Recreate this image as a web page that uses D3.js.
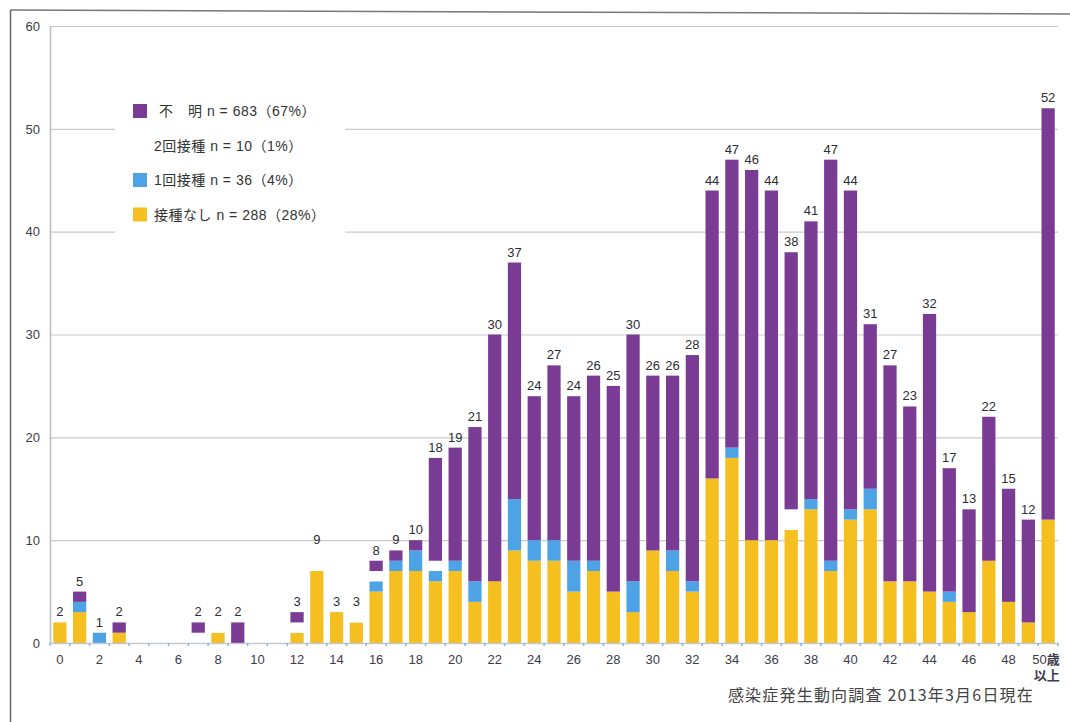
<!DOCTYPE html>
<html>
<head>
<meta charset="utf-8">
<script src="https://cdn.jsdelivr.net/npm/d3@7"></script>
<style>
  html, body { margin: 0; padding: 0; background: #fff; }
  svg text { font-family: "Liberation Sans", Arial, "Noto Sans CJK JP", sans-serif; }
  .jp { font-family: "Noto Sans CJK JP", "Liberation Sans", sans-serif; }
</style>
</head>
<body>
<svg id="chart" width="1070" height="722"></svg>
<script>
// Age groups: 0..49 years, then 50 and over
const ages = d3.range(0, 50).map(String).concat(["50+"]);

// Cases by vaccination status per age
const noVaccine = [2,3,0,1,0,0,0,0,1,0, 0,0,1,7,3,2,5,7,7,6, 7,4,6,9,8,8,5,7,5,3, 9,7,5,16,18,10,10,11,13,7, 12,13,6,6,5,4,3,8,4,2, 12];
const oneDose   = [0,1,1,0,0,0,0,0,0,0, 0,0,0,0,0,0,1,1,2,1, 1,2,0,5,2,2,3,1,0,3, 0,2,1,0,1,0,0,0,1,1, 1,2,0,0,0,1,0,0,0,0, 0];
const twoDoses  = [0,0,0,0,0,0,0,1,1,0, 0,0,1,2,0,1,1,0,0,1, 0,0,0,0,0,0,0,0,0,0, 0,0,0,0,0,0,0,2,0,0, 0,0,0,0,0,0,0,0,0,0, 0];
const unknown   = [0,1,0,1,0,0,0,1,0,2, 0,0,1,0,0,0,1,1,1,10, 11,15,24,23,14,17,16,18,20,24, 17,17,22,28,28,36,34,25,27,39, 31,16,21,17,27,12,10,14,11,10, 40];

// Stack order from the baseline upward
const seriesKeys = ["none", "one", "two", "unknown"];
const seriesColors = { none: "#f4bf1f", one: "#4da3e6", two: "#ffffff", unknown: "#7a3b94" };

const legendLabels = [
  { key: "unknown", text: "不\u3000明 n = 683（67%）", swatch: true },
  { key: "two",     text: "2回接種 n = 10（1%）",     swatch: false },
  { key: "one",     text: "1回接種 n = 36（4%）",     swatch: true },
  { key: "none",    text: "接種なし n = 288（28%）",  swatch: true }
];

const yTicks = [0, 10, 20, 30, 40, 50, 60];
const xTickLabels = ages.map((a, i) => (i % 2 === 0 && i < 50) ? a : "");
const sourceNote = "感染症発生動向調査 2013年3月6日現在";

const rows = ages.map((a, i) => ({
  age: a,
  none: noVaccine[i], one: oneDose[i], two: twoDoses[i], unknown: unknown[i]
}));
rows.forEach(r => r.total = r.none + r.one + r.two + r.unknown);

const svg = d3.select("#chart");

// scanned-page frame
svg.append("line").attr("x1", 10.5).attr("y1", 10).attr("x2", 1070).attr("y2", 14)
  .attr("stroke", "#777").attr("stroke-width", 1.5);
svg.append("line").attr("x1", 10.5).attr("y1", 10).attr("x2", 10.5).attr("y2", 722)
  .attr("stroke", "#666").attr("stroke-width", 1.5);

const plotLeft = 50, plotRight = 1058, plotTop = 26, plotBottom = 643;

const x = d3.scaleBand().domain(ages).range([plotLeft, plotRight])
  .paddingInner(0.33).paddingOuter(0.165);
const y = d3.scaleLinear().domain([0, 60]).range([plotBottom, plotTop]);

// horizontal gridlines
svg.append("g").selectAll("line").data(yTicks.filter(t => t > 0)).join("line")
  .attr("x1", plotLeft).attr("x2", plotRight)
  .attr("y1", d => y(d) + 0.5).attr("y2", d => y(d) + 0.5)
  .attr("stroke", "#c9c9c9").attr("stroke-width", 1.2);

// y axis
const yAxis = svg.append("g").attr("transform", `translate(${plotLeft},0)`)
  .call(d3.axisLeft(y).tickValues(yTicks).tickSize(0).tickPadding(10));
yAxis.select(".domain").attr("stroke", "#bbb").attr("stroke-width", 1.5);
yAxis.selectAll("text").attr("fill", "#3c3c4a").attr("font-size", 13);

// stacked bars
const stack = d3.stack().keys(seriesKeys);
const layers = stack(rows);
svg.append("g").selectAll("g").data(layers).join("g")
  .attr("fill", d => seriesColors[d.key])
  .selectAll("rect").data(d => d).join("rect")
  .attr("x", d => x(d.data.age))
  .attr("width", x.bandwidth())
  .attr("y", d => y(d[1]))
  .attr("height", d => y(d[0]) - y(d[1]));

// x axis
const xAxis = svg.append("g").attr("transform", `translate(0,${plotBottom})`)
  .call(d3.axisBottom(x).tickSize(0).tickPadding(12).tickFormat((d, i) => xTickLabels[i]));
xAxis.select(".domain").attr("stroke", "#c4c8d4").attr("stroke-width", 1.5);
xAxis.selectAll("text").attr("fill", "#3c3c4a").attr("font-size", 13);

// small tick marks on band boundaries
const boundaries = ages.map(a => x(a) - x.step() * x.paddingInner() / 2).concat([plotRight]);
xAxis.append("g").selectAll("line").data(boundaries).join("line")
  .attr("x1", d => d).attr("x2", d => d).attr("y1", 0).attr("y2", 3)
  .attr("stroke", "#8fb0dd").attr("stroke-width", 1.5);

// last category label: 50歳 / 以上
const lastRight = x("50+") + x.bandwidth() + 5;
const lastLabel = svg.append("text").attr("fill", "#3c3c4a").attr("font-size", 13)
  .attr("text-anchor", "end");
lastLabel.append("tspan").attr("x", lastRight).attr("y", plotBottom + 21).text("50")
  .append("tspan").attr("font-weight", "bold").text("歳");
lastLabel.append("tspan").attr("x", lastRight).attr("y", plotBottom + 37)
  .attr("font-weight", "bold").text("以上");

// totals above bars
svg.append("g").selectAll("text").data(rows.filter(r => r.total > 0)).join("text")
  .attr("x", d => x(d.age) + x.bandwidth() / 2)
  .attr("y", d => y(d.total) - 6)
  .attr("text-anchor", "middle")
  .attr("font-size", 13)
  .attr("fill", "#2c2c34")
  .text(d => d.total);

// legend on a white panel
const legend = svg.append("g");
legend.append("rect").attr("x", 115).attr("y", 86).attr("width", 230).attr("height", 150).attr("fill", "#fff");
const items = legend.selectAll("g.item").data(legendLabels).join("g")
  .attr("class", "item")
  .attr("transform", (d, i) => `translate(133,${111 + i * 34.5})`);
items.filter(d => d.swatch).append("rect")
  .attr("x", 0).attr("y", -7).attr("width", 14).attr("height", 14)
  .attr("fill", d => seriesColors[d.key]);
items.append("text")
  .attr("x", d => d.key === "unknown" ? 26 : 21).attr("y", 5)
  .attr("font-size", 14).attr("fill", "#333")
  .attr("letter-spacing", 0.5)
  .text(d => d.text);

// source note
svg.append("text").attr("class", "jp")
  .attr("x", 1034).attr("y", 701).attr("text-anchor", "end")
  .attr("font-size", 16).attr("letter-spacing", 1.2).attr("fill", "#444")
  .text(sourceNote);
</script>
</body>
</html>
